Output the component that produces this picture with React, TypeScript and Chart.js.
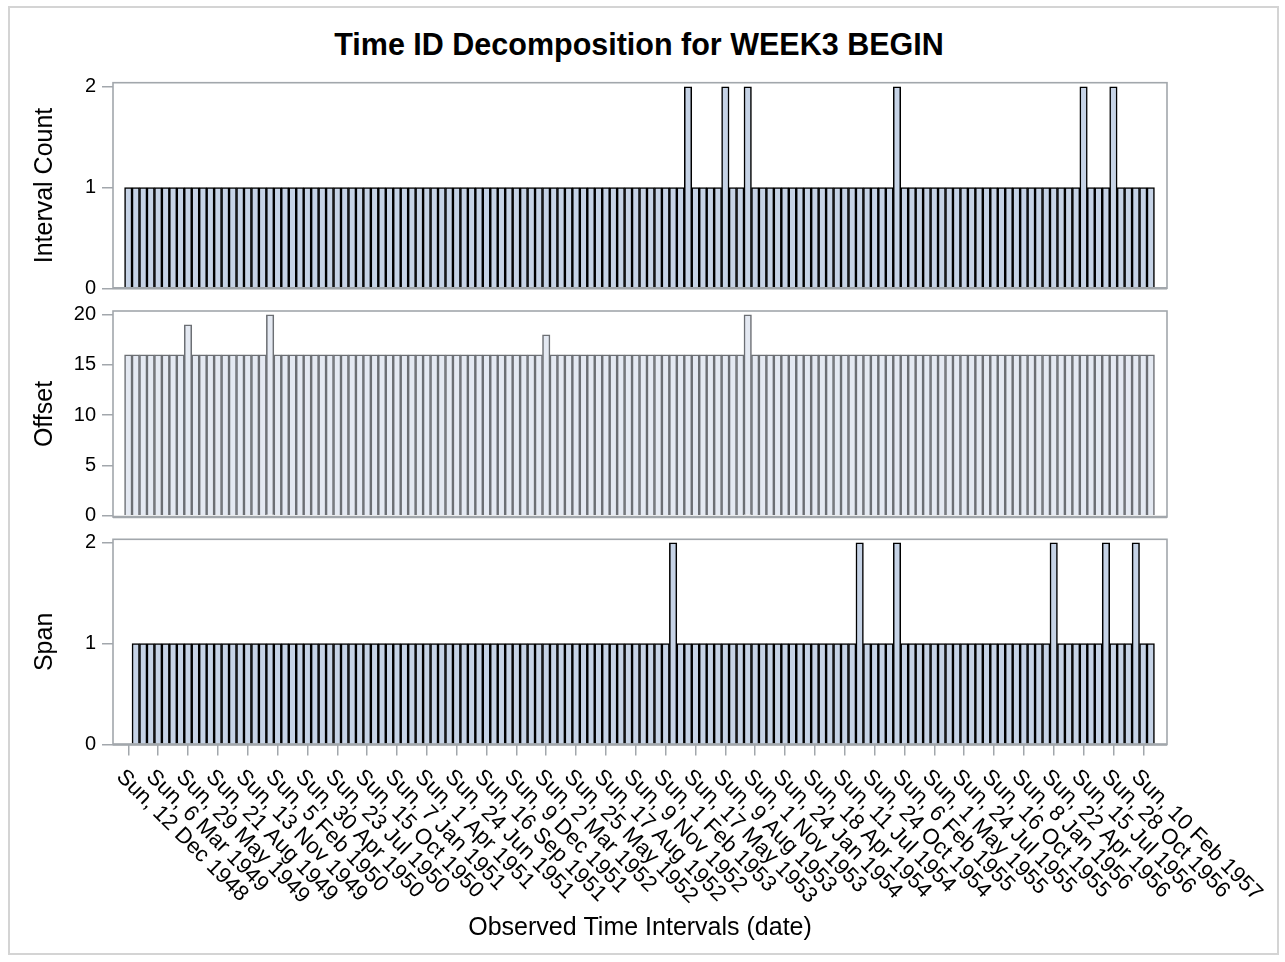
import React, { useEffect, useRef } from 'react';
import { Chart, registerables } from 'chart.js';

Chart.register(...registerables);

// ---------- data ----------
const tickLabels: string[] = [
  'Sun, 12 Dec 1948', 'Sun, 6 Mar 1949', 'Sun, 29 May 1949', 'Sun, 21 Aug 1949', 'Sun, 13 Nov 1949',
  'Sun, 5 Feb 1950', 'Sun, 30 Apr 1950', 'Sun, 23 Jul 1950', 'Sun, 15 Oct 1950', 'Sun, 7 Jan 1951',
  'Sun, 1 Apr 1951', 'Sun, 24 Jun 1951', 'Sun, 16 Sep 1951', 'Sun, 9 Dec 1951', 'Sun, 2 Mar 1952',
  'Sun, 25 May 1952', 'Sun, 17 Aug 1952', 'Sun, 9 Nov 1952', 'Sun, 1 Feb 1953', 'Sun, 17 May 1953',
  'Sun, 9 Aug 1953', 'Sun, 1 Nov 1953', 'Sun, 24 Jan 1954', 'Sun, 18 Apr 1954', 'Sun, 11 Jul 1954',
  'Sun, 24 Oct 1954', 'Sun, 6 Feb 1955', 'Sun, 1 May 1955', 'Sun, 24 Jul 1955', 'Sun, 16 Oct 1955',
  'Sun, 8 Jan 1956', 'Sun, 22 Apr 1956', 'Sun, 15 Jul 1956', 'Sun, 28 Oct 1956', 'Sun, 10 Feb 1957',
];

const intervalCount: (number | null)[] = [
  1, 1, 1, 1, 1, 1, 1, 1, 1, 1, 1, 1, 1, 1, 1, 1, 1, 1, 1, 1,
  1, 1, 1, 1, 1, 1, 1, 1, 1, 1, 1, 1, 1, 1, 1, 1, 1, 1, 1, 1,
  1, 1, 1, 1, 1, 1, 1, 1, 1, 1, 1, 1, 1, 1, 1, 1, 1, 1, 1, 1,
  1, 1, 1, 1, 1, 1, 1, 1, 1, 1, 1, 1, 1, 1, 1, 2, 1, 1, 1, 1,
  2, 1, 1, 2, 1, 1, 1, 1, 1, 1, 1, 1, 1, 1, 1, 1, 1, 1, 1, 1,
  1, 1, 1, 2, 1, 1, 1, 1, 1, 1, 1, 1, 1, 1, 1, 1, 1, 1, 1, 1,
  1, 1, 1, 1, 1, 1, 1, 1, 2, 1, 1, 1, 2, 1, 1, 1, 1, 1,
];

const offsetValues: (number | null)[] = [
  16, 16, 16, 16, 16, 16, 16, 16, 19, 16, 16, 16, 16, 16, 16, 16, 16, 16, 16, 20,
  16, 16, 16, 16, 16, 16, 16, 16, 16, 16, 16, 16, 16, 16, 16, 16, 16, 16, 16, 16,
  16, 16, 16, 16, 16, 16, 16, 16, 16, 16, 16, 16, 16, 16, 16, 16, 18, 16, 16, 16,
  16, 16, 16, 16, 16, 16, 16, 16, 16, 16, 16, 16, 16, 16, 16, 16, 16, 16, 16, 16,
  16, 16, 16, 20, 16, 16, 16, 16, 16, 16, 16, 16, 16, 16, 16, 16, 16, 16, 16, 16,
  16, 16, 16, 16, 16, 16, 16, 16, 16, 16, 16, 16, 16, 16, 16, 16, 16, 16, 16, 16,
  16, 16, 16, 16, 16, 16, 16, 16, 16, 16, 16, 16, 16, 16, 16, 16, 16, 16,
];

const spanValues: (number | null)[] = [
  null, 1, 1, 1, 1, 1, 1, 1, 1, 1, 1, 1, 1, 1, 1, 1, 1, 1, 1, 1,
  1, 1, 1, 1, 1, 1, 1, 1, 1, 1, 1, 1, 1, 1, 1, 1, 1, 1, 1, 1,
  1, 1, 1, 1, 1, 1, 1, 1, 1, 1, 1, 1, 1, 1, 1, 1, 1, 1, 1, 1,
  1, 1, 1, 1, 1, 1, 1, 1, 1, 1, 1, 1, 1, 2, 1, 1, 1, 1, 1, 1,
  1, 1, 1, 1, 1, 1, 1, 1, 1, 1, 1, 1, 1, 1, 1, 1, 1, 1, 2, 1,
  1, 1, 1, 2, 1, 1, 1, 1, 1, 1, 1, 1, 1, 1, 1, 1, 1, 1, 1, 1,
  1, 1, 1, 1, 2, 1, 1, 1, 1, 1, 1, 2, 1, 1, 1, 2, 1, 1,
];

const countTicks = [0, 1, 2];
const offsetTicks = [0, 5, 10, 15, 20];
const spanTicks = [0, 1, 2];

// ---------- styling ----------
const FONT = '"Liberation Sans", Arial, Helvetica, sans-serif';
const FRAME = '#a2a7ac';
const X_MIN = -2.05;
const X_MAX = 139.18;
const TICK_EVERY = 4;

type PanelProps = {
  top: number;
  height: number;
  values: (number | null)[];
  yLabel: string;
  yMin: number;
  yMax: number;
  yTicks: number[];
  fill: string;
  stroke: string;
  padTop: number;
  padBottom: number;
  bottomAxis: boolean;
};

function Panel(p: PanelProps) {
  const ref = useRef<HTMLCanvasElement>(null);
  useEffect(() => {
    const framePlugin = {
      id: 'frame',
      afterDatasetsDraw(chart: any) {
        const { ctx, chartArea: a } = chart;
        ctx.save();
        ctx.strokeStyle = FRAME;
        ctx.lineWidth = 1.6;
        ctx.strokeRect(a.left, a.top, a.right - a.left, a.bottom - a.top);
        ctx.lineWidth = 2.6;
        ctx.beginPath();
        ctx.moveTo(a.left, a.bottom);
        ctx.lineTo(a.right, a.bottom);
        ctx.stroke();
        ctx.restore();
      },
    };
    const labelPlugin = {
      id: 'rotLabels',
      afterDraw(chart: any) {
        const { ctx, chartArea: a } = chart;
        const xs = chart.scales.x;
        ctx.save();
        ctx.fillStyle = '#000';
        ctx.font = '22px ' + FONT;
        ctx.textAlign = 'left';
        ctx.textBaseline = 'middle';
        xs.ticks.forEach((t: any) => {
          const label = tickLabels[Math.round(t.value / TICK_EVERY)];
          const x = xs.getPixelForValue(t.value);
          ctx.save();
          ctx.translate(x - 8.5, a.bottom + 29);
          ctx.rotate(Math.PI / 4);
          ctx.fillText(label, 0, 0);
          ctx.restore();
        });
        ctx.restore();
      },
    };

    const chart = new Chart(ref.current as HTMLCanvasElement, {
      type: 'bar',
      data: {
        datasets: [
          {
            data: p.values.map((v, i) => ({ x: i, y: v })) as any,
            backgroundColor: p.fill,
            borderColor: p.stroke,
            borderWidth: 1.55,
            barPercentage: 1,
            categoryPercentage: 1,
            inflateAmount: 0.33,
            borderSkipped: 'start',
          } as any,
        ],
      },
      options: {
        responsive: false,
        animation: false,
        devicePixelRatio: 1,
        layout: { padding: { left: 0, right: 118, top: p.padTop, bottom: p.padBottom } },
        plugins: {
          legend: { display: false },
          tooltip: { enabled: false },
          title: { display: false },
        },
        scales: {
          x: {
            type: 'linear',
            display: p.bottomAxis,
            min: X_MIN,
            max: X_MAX,
            offset: false,
            grid: {
              offset: false,
              drawOnChartArea: false,
              drawTicks: true,
              tickLength: 11,
              color: FRAME,
              lineWidth: 1.5,
            },
            border: { display: false },
            ticks: { display: false },
            afterBuildTicks: (s: any) => {
              s.ticks = tickLabels.map((_, k) => ({ value: k * TICK_EVERY }));
            },
            afterFit: (s: any) => {
              if (p.bottomAxis) s.height = 217.5;
              s.paddingLeft = 0;
              s.paddingRight = 0;
            },
            title: {
              display: p.bottomAxis,
              text: 'Observed Time Intervals (date)',
              color: '#000',
              font: { size: 25, family: FONT },
              padding: { top: 0, bottom: 18.5 },
            },
          } as any,
          y: {
            type: 'linear',
            position: 'left',
            min: p.yMin,
            max: p.yMax,
            grid: {
              drawOnChartArea: false,
              drawTicks: true,
              tickLength: 11,
              color: FRAME,
              lineWidth: 1.5,
            },
            border: { display: false },
            ticks: {
              color: '#000',
              padding: 6,
              font: { size: 20, family: FONT },
            },
            afterBuildTicks: (s: any) => {
              s.ticks = p.yTicks.map((v) => ({ value: v }));
            },
            afterFit: (s: any) => {
              s.width = 113;
              s.paddingTop = 0;
              s.paddingBottom = 0;
            },
            title: {
              display: true,
              text: p.yLabel,
              color: '#000',
              font: { size: 25, family: FONT },
              padding: { top: 30.5, bottom: 0 },
            },
          } as any,
        },
      },
      plugins: p.bottomAxis ? [framePlugin, labelPlugin] : [framePlugin],
    });
    return () => chart.destroy();
  }, []);

  return (
    <canvas
      ref={ref}
      width={1285}
      height={p.height}
      style={{ position: 'absolute', left: 0, top: p.top, width: 1285, height: p.height }}
    />
  );
}

export default function App() {
  return (
    <div style={{ position: 'absolute', left: 0, top: 0, width: 1285, height: 962, background: '#fff' }}>
      <div
        style={{
          position: 'absolute',
          left: 8,
          top: 6,
          width: 1271,
          height: 949,
          boxSizing: 'border-box',
          border: '2px solid #d4d4d4',
        }}
      />
      <div
        style={{
          position: 'absolute',
          left: 0,
          top: 26.2,
          width: 1278,
          textAlign: 'center',
          font: 'bold 30.5px ' + FONT,
          lineHeight: '36px',
          color: '#000',
          whiteSpace: 'nowrap',
        }}
      >
        Time ID Decomposition for WEEK3 BEGIN
      </div>
      <Panel
        top={0}
        height={300}
        values={intervalCount}
        yLabel="Interval Count"
        yMin={0}
        yMax={2.04}
        yTicks={countTicks}
        fill="#c6d3e6"
        stroke="#000000"
        padTop={82.7}
        padBottom={11.7}
        bottomAxis={false}
      />
      <Panel
        top={300}
        height={230}
        values={offsetValues}
        yLabel="Offset"
        yMin={-0.15}
        yMax={20.37}
        yTicks={offsetTicks}
        fill="#e4e9f2"
        stroke="#6c6f74"
        padTop={11}
        padBottom={13}
        bottomAxis={false}
      />
      <Panel
        top={530}
        height={432}
        values={spanValues}
        yLabel="Span"
        yMin={0}
        yMax={2.034}
        yTicks={spanTicks}
        fill="#c6d3e6"
        stroke="#000000"
        padTop={9.3}
        padBottom={0}
        bottomAxis={true}
      />
    </div>
  );
}
